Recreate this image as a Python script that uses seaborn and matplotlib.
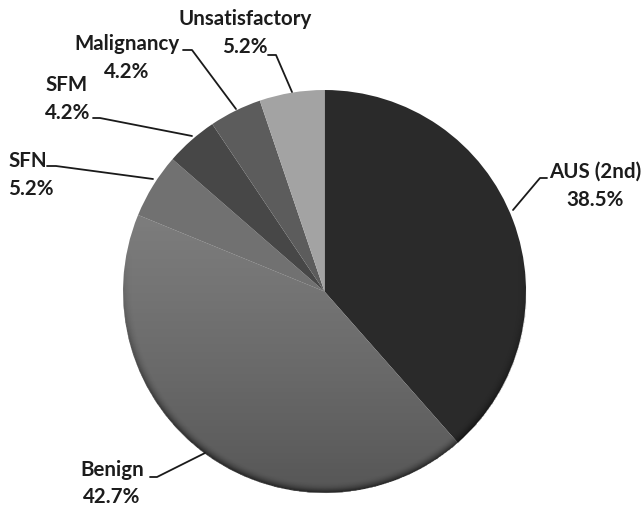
import numpy as np
import matplotlib.pyplot as plt
import seaborn as sns

categories = ["AUS (2nd)", "Benign", "SFN", "SFM", "Malignancy", "Unsatisfactory"]
percent = [38.5, 42.7, 5.2, 4.2, 4.2, 5.2]
percent_labels = ["38.5%", "42.7%", "5.2%", "4.2%", "4.2%", "5.2%"]
grays = ["#2a2a2a", "#868686", "#717171", "#474747", "#5c5c5c", "#a3a3a3"]

W, H = 644, 508
CX, CY, R = 324.5, 291.5, 201.5

# label placement in image pixels: x, y name, y pct, alignment
label_pos = {
    "AUS (2nd)": (595, 172, 200, "center"),
    "Benign": (112, 470, 497, "center"),
    "SFN": (8, 161, 189, "left"),
    "SFM": (45, 85, 113, "left"),
    "Malignancy": (127, 44, 72, "center"),
    "Unsatisfactory": (245, 19, 47, "center"),
}
# leader lines in image pixels: start, elbow, end on the rim
leaders = {
    "AUS (2nd)": [(547, 178), (540, 178), (513, 210)],
    "Benign": [(150, 477), (157, 477), (205, 453)],
    "SFN": [(47, 166), (56, 166), (153, 179)],
    "SFM": [(93, 118), (100, 118), (192, 136)],
    "Malignancy": [(183, 50), (192, 50), (236, 109)],
    "Unsatisfactory": [(268, 55), (276, 55), (292, 92)],
}


def px(x, y):
    # image pixels to pie data units
    return (x - CX) / R, (CY - y) / R


sns.set_theme(style="white")
plt.rcParams["font.family"] = ["Lato", "DejaVu Sans"]

fig = plt.figure(figsize=(W / 100, H / 100), dpi=100)
ax = fig.add_axes([0, 0, 1, 1])

wedges, _ = ax.pie(percent, colors=sns.color_palette(grays), startangle=90,
                   counterclock=False, radius=1, center=(0, 0),
                   wedgeprops={"linewidth": 0})

# vertical shading on the benign slice, darker towards the bottom
ramp = np.linspace(0, 0.48, 256) ** 1.4
shade = np.zeros((256, 2, 4))
shade[..., 3] = ramp[:, None]
im = ax.imshow(shade, extent=(-1, 1, -1, 1), origin="upper", zorder=2,
               aspect="auto", interpolation="bilinear")
im.set_clip_path(wedges[1])

# dark rim round the lower part of the pie
yy, xx = np.mgrid[1:-1:500j, -1:1:500j]
rr = np.hypot(xx, yy)
rim = np.zeros((500, 500, 4))
rim[..., 3] = np.clip((rr - 0.95) / 0.05, 0, 1) ** 2 * 0.6 * np.clip(0.2 - yy, 0, 1)
rim[rr > 1, 3] = 0
ax.imshow(rim, extent=(-1, 1, -1, 1), origin="upper", zorder=3,
          aspect="auto", interpolation="bilinear")

ax.set_xlim(px(0, 0)[0], px(W, 0)[0])
ax.set_ylim(px(0, H)[1], px(0, 0)[1])
ax.set_aspect("equal")
ax.axis("off")

for name, pct in zip(categories, percent_labels):
    x, y1, y2, ha = label_pos[name]
    ax.text(*px(x, y1), name, ha=ha, va="center", fontsize=14.8,
            fontweight="bold", color="#1c1c1c", zorder=5)
    ax.text(*px(x, y2), pct, ha=ha, va="center", fontsize=14.8,
            fontweight="bold", color="#1c1c1c", zorder=5)
    pts = np.array([px(*p) for p in leaders[name]])
    ax.plot(pts[:, 0], pts[:, 1], color="#1a1a1a", lw=1.3, zorder=4,
            solid_joinstyle="round")

fig.savefig("out.png", dpi=100, facecolor="white")
